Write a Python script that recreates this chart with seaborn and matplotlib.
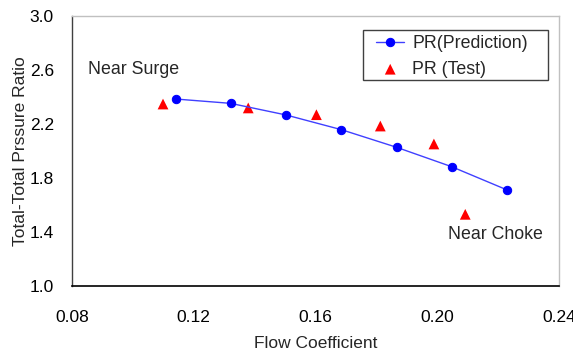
import matplotlib
matplotlib.use("Agg")
import matplotlib.pyplot as plt
from matplotlib.patches import Rectangle
import seaborn as sns
import pandas as pd

pred_flow = [0.1141, 0.1321, 0.1503, 0.1685, 0.1867, 0.2047, 0.2228]
pred_pr = [2.385, 2.353, 2.267, 2.158, 2.027, 1.884, 1.713]
test_flow = [0.1099, 0.1379, 0.1603, 0.1813, 0.1989, 0.2092]
test_pr = [2.348, 2.319, 2.269, 2.185, 2.052, 1.531]
x_ticks = [0.08, 0.12, 0.16, 0.20, 0.24]
y_ticks = [1.0, 1.4, 1.8, 2.2, 2.6, 3.0]

sns.set_style("white")
plt.rcParams['font.family'] = ['Liberation Sans', 'DejaVu Sans']

fig = plt.figure(figsize=(5.73, 3.53), dpi=100)
ax = fig.add_axes([72/573, 1-286/353, (559-72)/573, (286-16)/353])

pred = pd.DataFrame({"flow": pred_flow, "pr": pred_pr})
test = pd.DataFrame({"flow": test_flow, "pr": test_pr})

sns.lineplot(data=pred, x="flow", y="pr", ax=ax, color="#4040ff", lw=1.0,
             marker="o", markersize=6, markerfacecolor="#0000ff",
             markeredgecolor="#0000ff", label="PR(Prediction)", sort=False)
sns.scatterplot(data=test, x="flow", y="pr", ax=ax, color="#ff0000",
                marker="^", s=60, edgecolor="none", label="PR (Test)")

ax.set_xlim(0.08, 0.24)
ax.set_ylim(1.0, 3.0)
ax.set_xticks(x_ticks)
ax.set_xticklabels([f"{v:.2f}" for v in x_ticks])
ax.set_yticks(y_ticks)
ax.set_yticklabels([f"{v:.1f}" for v in y_ticks])
ax.tick_params(direction="in", length=5, width=1, colors="#808080",
               labelcolor="black", labelsize=12.5)
ax.tick_params(axis="x", pad=17)
ax.tick_params(axis="y", pad=13)
ax.set_xlabel("Flow Coefficient", fontsize=12.5, labelpad=8)
ax.set_ylabel("Total-Total Prssure Ratio", fontsize=12.5, labelpad=1)

for side in ["top", "right"]:
    ax.spines[side].set_color("#c0c0c0")
    ax.spines[side].set_linewidth(1)
ax.spines["left"].set_color("#404040")
ax.spines["bottom"].set_color("black")
ax.spines["left"].set_linewidth(1)
ax.spines["bottom"].set_linewidth(1.2)

ax.text(0.0853, 2.607, "Near Surge", fontsize=12.8, va="center", ha="left")
ax.text(0.2034, 1.378, "Near Choke", fontsize=12.8, va="center", ha="left")

leg = ax.legend(loc="upper left", bbox_to_anchor=(376/573, 1-35/353),
                bbox_transform=fig.transFigure, frameon=False,
                fontsize=12.8, borderpad=0, labelspacing=0.5,
                handlelength=1.6, handletextpad=0.45, borderaxespad=0)
fig.patches.append(Rectangle((363/573, 1-80/353), (548-363)/573, 50/353,
                             transform=fig.transFigure, fill=False,
                             edgecolor="#404040", linewidth=1, zorder=5))

fig.savefig("out.png", dpi=100)
